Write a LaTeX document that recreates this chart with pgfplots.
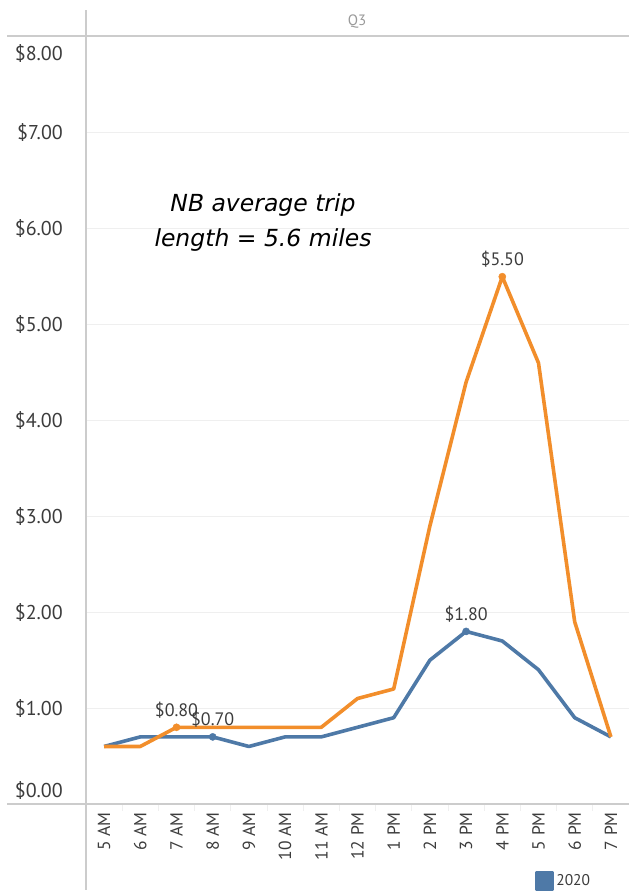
\documentclass[border=0pt]{standalone}
\usepackage{fontspec}
\setmainfont{PT Sans}
\newfontfamily\notefont{DejaVu Sans}
\usepackage{pgfplots}
\pgfplotsset{compat=1.18}

\definecolor{tabblue}{HTML}{4E79A7}
\definecolor{taborange}{HTML}{F28E2B}
\definecolor{gridgray}{HTML}{EFEFEF}
\definecolor{rulegray}{HTML}{CCCCCC}
\definecolor{labelgray}{HTML}{3C3C3C}
\definecolor{headgray}{HTML}{999999}

\begin{document}
\begin{tikzpicture}[x=1pt,y=1pt]
\begin{axis}[
  at={(86pt,91pt)}, anchor=south west,
  scale only axis, width=543pt, height=767pt,
  xmin=-0.5, xmax=14.5, ymin=0, ymax=8,
  axis line style={draw=none},
  clip=false,
  /pgf/number format/assume math mode=true,
  ytick={1,2,3,4,5,6,7},
  yticklabel={\$\pgfmathprintnumber[fixed,fixed zerofill,precision=2]{\tick}},
  yticklabel style={font=\fontsize{20}{24}\selectfont, text=labelgray, anchor=east, inner sep=0pt, xshift=-23pt},
  ymajorgrids, major grid style={gridgray, line width=1pt},
  xtick={0,...,14},
  xticklabels={5 AM,6 AM,7 AM,8 AM,9 AM,10 AM,11 AM,12 PM,1 PM,2 PM,3 PM,4 PM,5 PM,6 PM,7 PM},
  xticklabel style={font=\fontsize{17.5}{20}\selectfont, text=labelgray, rotate=90, anchor=east, inner sep=0pt},
  xticklabel shift=8pt,
  minor x tick num=1,
  xtick pos=bottom, ytick pos=left,
  tick align=outside,
  major tick length=0pt, minor tick length=7pt,
  minor tick style={gridgray, line width=1pt},
  legend style={draw=none, fill=none, at={(0.826,-0.1004)}, anchor=west,
    font=\fontsize{15.5}{18}\selectfont, text=labelgray, inner sep=0pt},
  legend image code/.code={\fill[tabblue] (0pt,-8pt) rectangle (16pt,8pt);},
]
% 2020
\addplot[tabblue, line width=3.6pt, line join=round] coordinates {
  (0,0.6) (1,0.7) (2,0.7) (3,0.7) (4,0.6) (5,0.7) (6,0.7) (7,0.8)
  (8,0.9) (9,1.5) (10,1.8) (11,1.7) (12,1.4) (13,0.9) (14,0.7)};
\addlegendentry{2020}
% comparison series
\addplot[taborange, line width=3.6pt, line join=round, forget plot] coordinates {
  (0,0.6) (1,0.6) (2,0.8) (3,0.8) (4,0.8) (5,0.8) (6,0.8) (7,1.1)
  (8,1.2) (9,2.9) (10,4.4) (11,5.5) (12,4.6) (13,1.9) (14,0.7)};
% labelled points
\addplot[only marks, mark=*, mark size=3.6pt, tabblue, forget plot,
  nodes near coords={\$\pgfmathprintnumber[fixed,fixed zerofill,precision=2]{\pgfplotspointmeta}},
  nodes near coords style={font=\fontsize{18}{21}\selectfont, text=labelgray, anchor=south, inner sep=0pt, yshift=9pt}]
  coordinates {(3,0.7) (10,1.8)};
\addplot[only marks, mark=*, mark size=3.6pt, taborange, forget plot,
  nodes near coords={\$\pgfmathprintnumber[fixed,fixed zerofill,precision=2]{\pgfplotspointmeta}},
  nodes near coords style={font=\fontsize{18}{21}\selectfont, text=labelgray, anchor=south, inner sep=0pt, yshift=9pt}]
  coordinates {(2,0.8) (11,5.5)};
% end labels of the value axis, pulled inside the pane
\node[anchor=east, inner sep=0pt, xshift=-23pt, yshift=14pt, text=labelgray,
  font=\fontsize{20}{24}\selectfont] at (axis cs:-0.5,0) {\$0.00};
\node[anchor=east, inner sep=0pt, xshift=-23pt, yshift=-16pt, text=labelgray,
  font=\fontsize{20}{24}\selectfont] at (axis cs:-0.5,8) {\$8.00};
% annotation
\node[align=center, font=\notefont\itshape\fontsize{23.5}{35}\selectfont, text=black]
  at (axis cs:4.39,6.06) {NB average trip\\length = 5.6 miles};
\end{axis}
% pane rules and header
\draw[rulegray, line width=1.3pt] (7,859) -- (629,859);
\draw[rulegray, line width=1.3pt] (7,91) -- (629,91);
\draw[rulegray, line width=1.3pt] (86,5) -- (86,885);
\node[text=headgray, font=\fontsize{15}{18}\selectfont] at (357,873) {Q3};
\pgfresetboundingbox
\path (0,0) rectangle (629,895);
\end{tikzpicture}
\end{document}
